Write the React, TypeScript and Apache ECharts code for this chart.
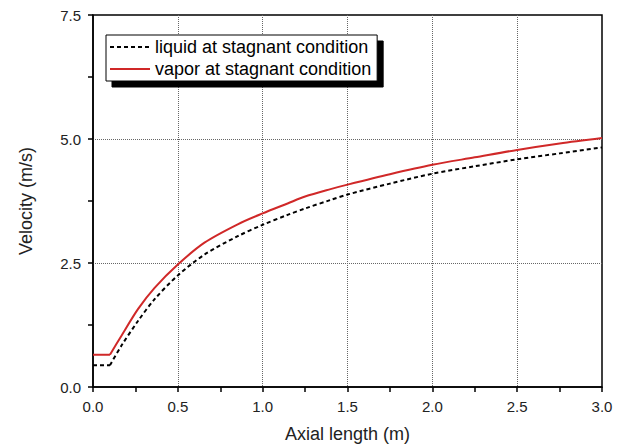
import React, { useEffect, useRef } from "react";
import * as echarts from "echarts";

const xLabels = ["0.0", "0.5", "1.0", "1.5", "2.0", "2.5", "3.0"];
const yLabels = ["0.0", "2.5", "5.0", "7.5"];

const liquidName = "liquid at stagnant condition";
const vaporName = "vapor at stagnant condition";

const liquidX = [0, 0.1, 0.167, 0.265, 0.363, 0.5, 0.657, 0.853, 1.0, 1.147, 1.25, 1.4, 1.5, 1.75, 2.0, 2.25, 2.5, 2.75, 3.0];
const liquidY = [0.44, 0.44, 0.83, 1.33, 1.77, 2.25, 2.67, 3.04, 3.27, 3.47, 3.6, 3.77, 3.88, 4.1, 4.3, 4.45, 4.59, 4.71, 4.83];

const vaporX = [0, 0.1, 0.167, 0.265, 0.363, 0.5, 0.657, 0.853, 1.0, 1.147, 1.25, 1.4, 1.5, 1.75, 2.0, 2.25, 2.5, 2.75, 3.0];
const vaporY = [0.65, 0.65, 1.03, 1.57, 2.0, 2.47, 2.91, 3.28, 3.5, 3.7, 3.84, 3.99, 4.08, 4.29, 4.48, 4.63, 4.78, 4.91, 5.02];

// index where the flat inlet section ends and the rising curve starts
const KINK = 1;

const FONT = "'Liberation Sans', Arial, sans-serif";
const RED = "#d02828";

export default function App() {
  const ref = useRef<HTMLDivElement>(null);
  useEffect(() => {
    if (!ref.current) return;
    const chart = echarts.init(ref.current, undefined, { renderer: "svg" });
    const fmt = (labels: string[]) => (v: number) => {
      const s = v.toFixed(1);
      return labels.includes(s) ? s : "";
    };
    const pts = (xs: number[], ys: number[]) => xs.map((x, i) => [x, ys[i]]);
    const liq = pts(liquidX, liquidY);
    const vap = pts(vaporX, vaporY);
    const liqStyle = { color: "#000", width: 2, type: [4, 3] };
    const vapStyle = { color: RED, width: 2 };
    const axisCommon = {
      type: "value",
      nameLocation: "middle",
      nameTextStyle: { fontSize: 18, fontFamily: FONT, color: "#222" },
      axisLine: { show: true, onZero: false, lineStyle: { color: "#000", width: 1.5 } },
      axisTick: { show: true, inside: false, length: 5, lineStyle: { color: "#000", width: 1.5 } },
      minorTick: { show: true, splitNumber: 2, length: 5, lineStyle: { color: "#000", width: 1.5 } },
      splitLine: {
        show: true,
        showMinLine: false,
        showMaxLine: false,
        lineStyle: { color: "#666", type: [1, 1], width: 1 },
      },
    };
    chart.setOption({
      animation: false,
      backgroundColor: "#fff",
      textStyle: { fontFamily: FONT },
      grid: {
        left: 93,
        right: 20,
        top: 15,
        bottom: 60,
        show: true,
        borderColor: "#000",
        borderWidth: 1.5,
        backgroundColor: "transparent",
      },
      legend: {
        orient: "vertical",
        left: 106,
        top: 35,
        backgroundColor: "#fff",
        borderColor: "#000",
        borderWidth: 1,
        shadowColor: "#000",
        shadowBlur: 0,
        shadowOffsetX: 6,
        shadowOffsetY: 6,
        padding: [2, 6, 2, 3],
        itemGap: 2,
        itemWidth: 40,
        itemHeight: 14,
        itemStyle: { opacity: 0, color: "transparent", borderWidth: 0 },
        textStyle: { fontSize: 18, fontFamily: FONT, color: "#000", lineHeight: 20 },
        data: [liquidName, vaporName],
      },
      xAxis: {
        ...axisCommon,
        min: 0,
        max: 3,
        interval: 0.5,
        name: "Axial length (m)",
        nameGap: 38,
        axisLabel: { fontSize: 15, fontFamily: FONT, color: "#222", margin: 12, formatter: fmt(xLabels) },
      },
      yAxis: {
        ...axisCommon,
        min: 0,
        max: 7.5,
        interval: 2.5,
        name: "Velocity (m/s)",
        nameGap: 58,
        axisLabel: { fontSize: 15, fontFamily: FONT, color: "#222", margin: 12, formatter: fmt(yLabels) },
      },
      series: [
        {
          name: liquidName,
          type: "line",
          symbol: "none",
          data: liq.slice(0, KINK + 1),
          lineStyle: liqStyle,
          itemStyle: { color: "#000" },
          z: 3,
        },
        {
          name: liquidName,
          type: "line",
          symbol: "none",
          smooth: 0.3,
          data: liq.slice(KINK),
          lineStyle: liqStyle,
          itemStyle: { color: "#000" },
          z: 3,
        },
        {
          name: vaporName,
          type: "line",
          symbol: "none",
          data: vap.slice(0, KINK + 1),
          lineStyle: vapStyle,
          itemStyle: { color: RED },
          z: 4,
        },
        {
          name: vaporName,
          type: "line",
          symbol: "none",
          smooth: 0.3,
          data: vap.slice(KINK),
          lineStyle: vapStyle,
          itemStyle: { color: RED },
          z: 4,
        },
      ],
    });
    return () => chart.dispose();
  }, []);
  return (
    <div
      ref={ref}
      style={{ position: "fixed", left: 0, top: 0, width: 622, height: 448, background: "#fff" }}
    />
  );
}
